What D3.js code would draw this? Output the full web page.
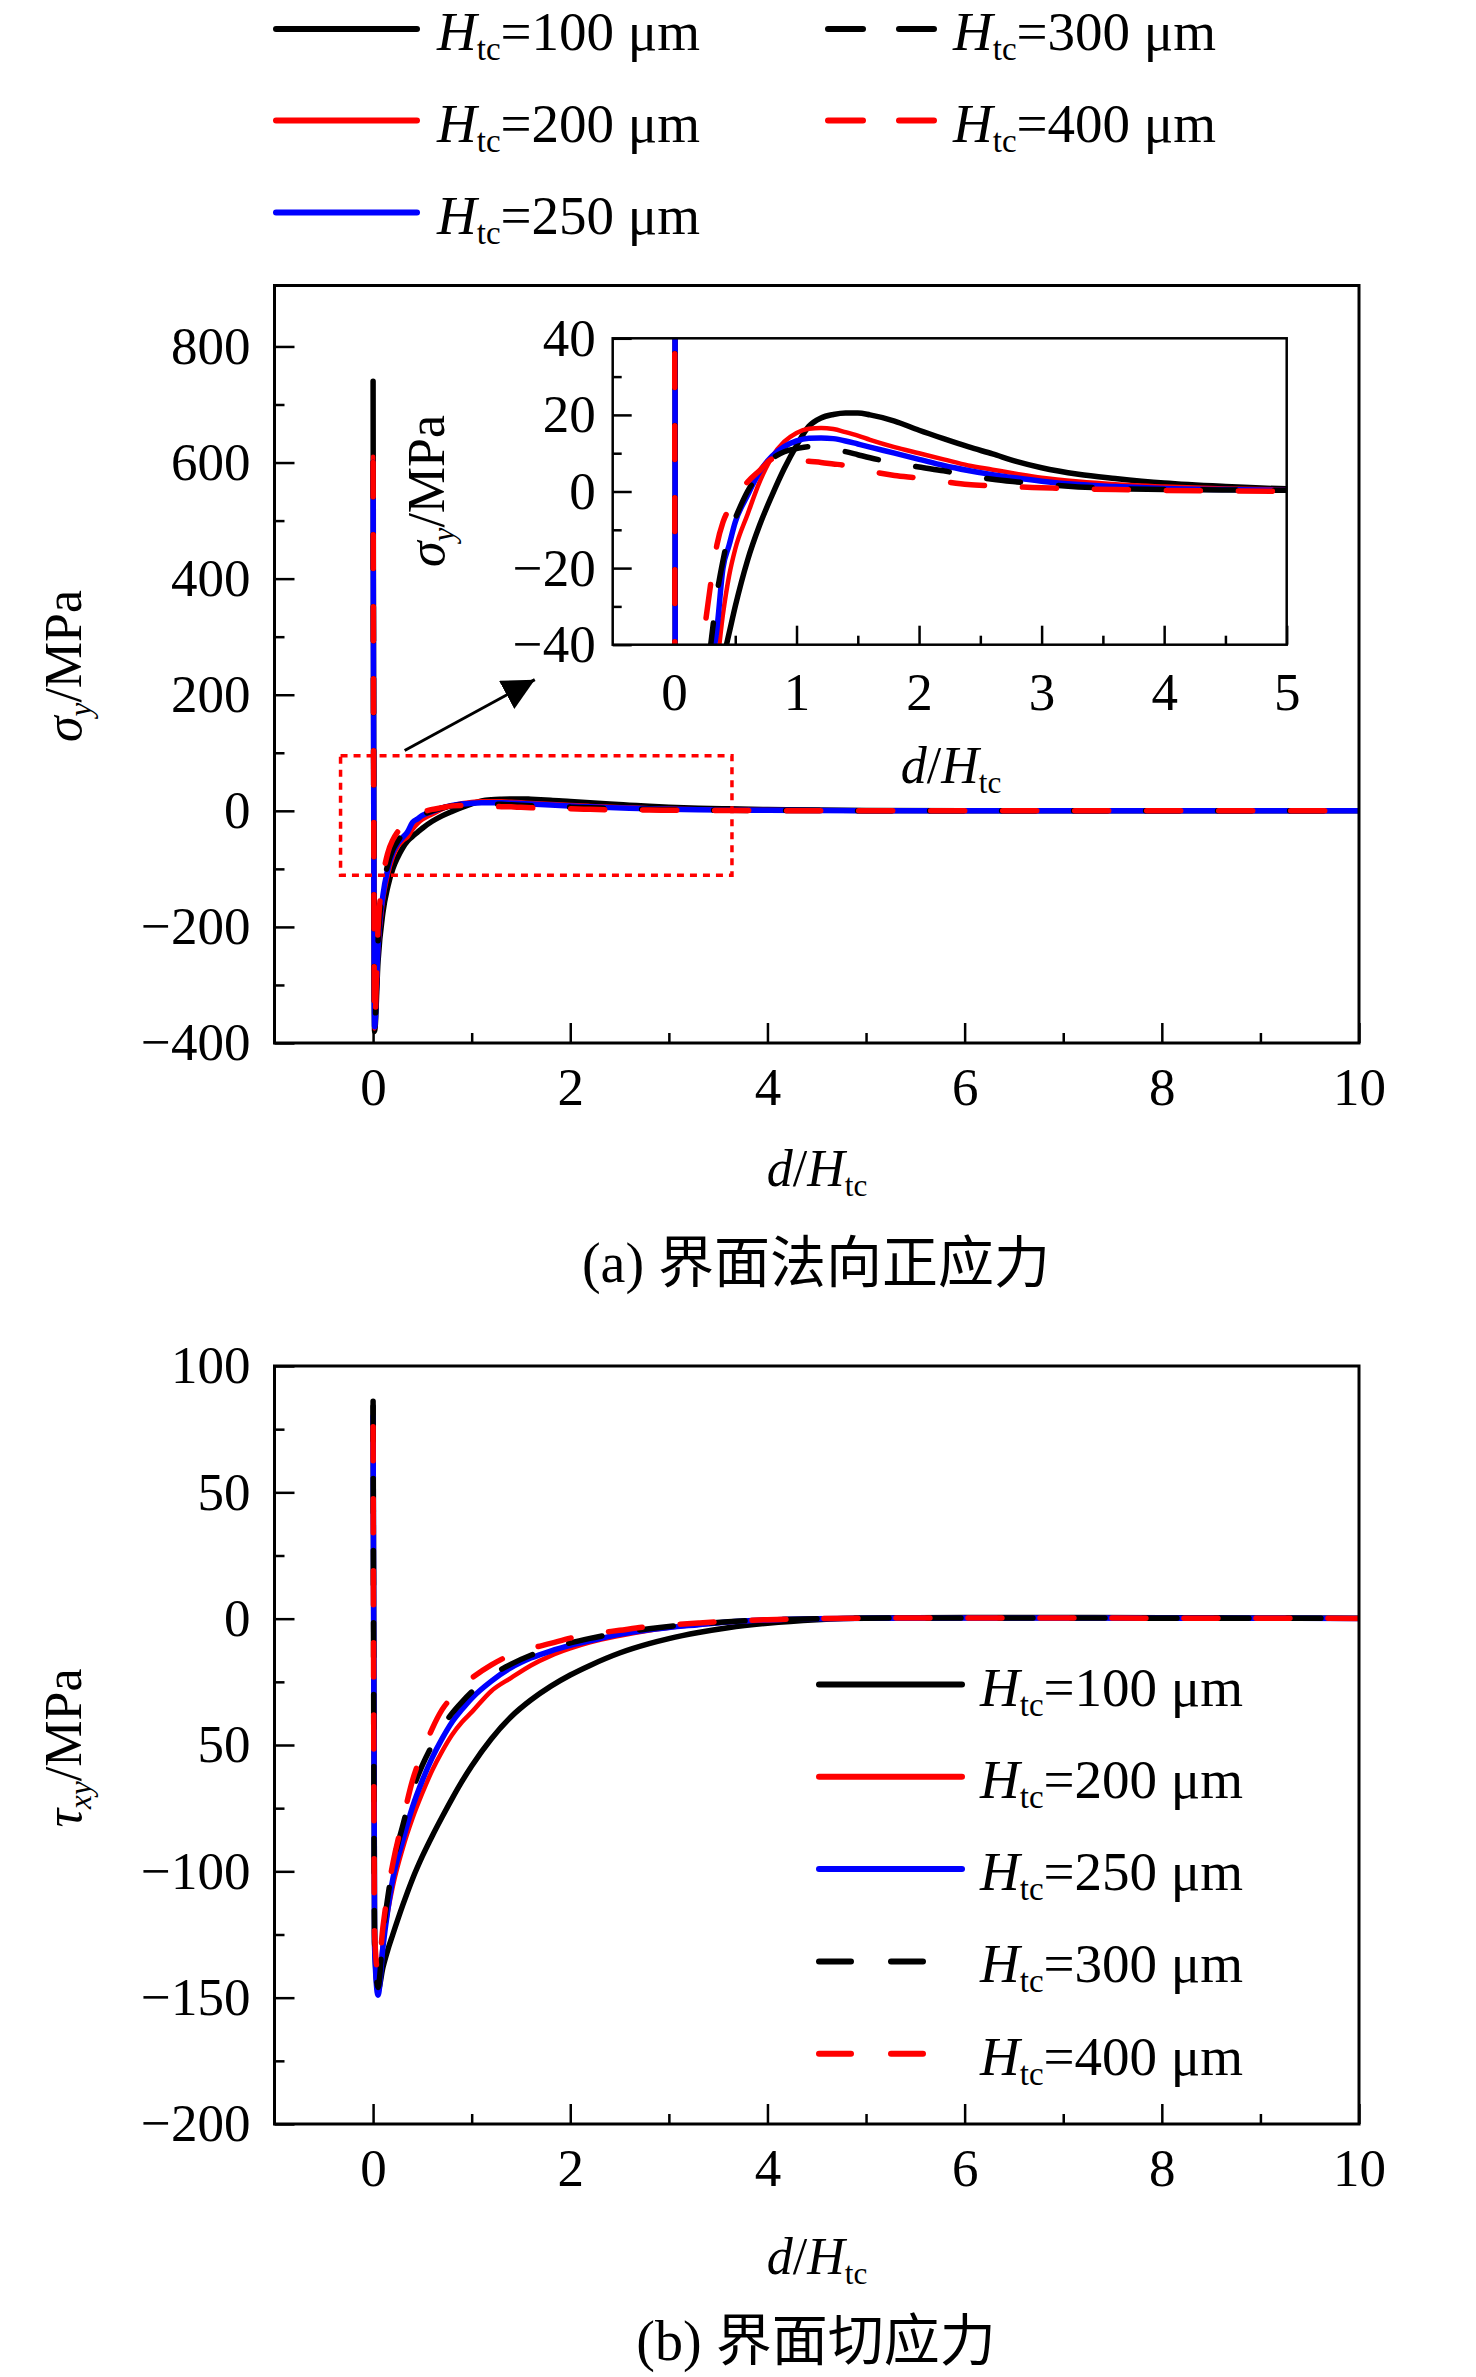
<!DOCTYPE html>
<html>
<head>
<meta charset="utf-8">
<script src="https://cdn.jsdelivr.net/npm/d3@7"></script>
<style>
    body { margin: 0; background: #fff; }
    svg { display: block; }
</style>
</head>
<body>
<svg id="chart" width="1476" height="2377"></svg>
<script>
// values (d/Htc on x)
const sigmaX = [0, 0.015, 0.05, 0.1, 0.15, 0.2, 0.25, 0.3, 0.35, 0.4, 0.45, 0.5, 0.6, 0.7, 0.8, 0.9, 1.0, 1.1, 1.2, 1.3,
    1.4, 1.5, 1.6, 1.8, 2.0, 2.2, 2.4, 2.6, 2.8, 3.0, 3.3, 3.6, 4.0, 4.5, 5.0, 6, 8, 10];
const sigma100 = [740, -380, -260, -175, -130, -100, -80, -64, -52, -44, -37, -30, -18, -8.7, -1, 6, 12, 17, 19.2, 20.1,
    20.5, 20.5, 20, 18.4, 16, 13.8, 11.7, 9.8, 7.8, 6.2, 4.5, 3.4, 2.2, 1.3, 0.7, 0.3, 0.1, 0];
const sigma200 = [610, -375, -245, -155, -110, -80, -62, -52, -45, -32, -22, -15, -6, 2.6, 9, 13, 15.3, 16.4, 16.6, 16.3,
    15.5, 14.6, 13.5, 11.6, 10, 8.4, 6.8, 5.7, 4.6, 3.6, 2.6, 1.9, 1.3, 0.8, 0.5, 0.2, 0.05, 0];
const sigma250 = [600, -372, -235, -145, -100, -72, -56, -46, -36, -20, -14, -8, -1, 5.2, 9.2, 11.7, 13.2, 13.9, 14, 13.8,
    13.2, 12.4, 11.6, 10, 8.4, 6.8, 5.5, 4.4, 3.5, 2.7, 1.8, 1.3, 0.8, 0.5, 0.3, 0.1, 0, 0];
const sigma300 = [600, -370, -225, -135, -92, -67, -52, -40, -27, -18, -11, -7, 0, 4.8, 8.5, 10.4, 11.2, 11.7, 11.6, 11.1,
    10.4, 9.6, 8.8, 7.5, 6.4, 5.4, 4.2, 3.2, 2.5, 1.9, 1.2, 0.8, 0.5, 0.4, 0.3, 0.1, 0, 0];
const sigma400 = [600, -365, -205, -115, -72, -50, -36, -24, -14, -8, -4.5, -2, 2.5, 5.5, 8.5, 9.2, 8.3, 7.9, 7.6, 7.2,
    6.8, 6, 5.3, 4.2, 3.5, 2.6, 1.8, 1.5, 1.2, 1.0, 0.7, 0.5, 0.3, 0.15, 0.05, 0, 0, 0];

const tauX = [0, 0.015, 0.05, 0.1, 0.15, 0.2, 0.3, 0.4, 0.5, 0.6, 0.7, 0.8, 0.9, 1.0, 1.2, 1.4, 1.6, 1.8, 2.0, 2.2,
    2.5, 2.8, 3.0, 3.3, 3.6, 4.0, 4.5, 5.0, 6, 7, 8, 9, 10];
const tau100 = [86, -128, -147, -138, -131, -125, -113.5, -103, -94, -86, -78.5, -71.3, -64.5, -58.3, -47.5, -38.8, -32.2, -26.8, -22.3, -18.5,
    -13.6, -9.9, -7.9, -5.5, -3.6, -1.8, -0.4, 0.3, 0.5, 0.5, 0.4, 0.3, 0.2];
const tau200 = [74, -128, -146, -128, -116, -106, -91, -79, -69, -60, -52.5, -46, -41, -37, -28.6, -23.4, -18.5, -14.7, -11.8, -9.4,
    -6.8, -4.7, -3.6, -2.4, -1.4, -0.6, 0, 0.2, 0.3, 0.3, 0.2, 0.2, 0.1];
const tau250 = [80, -130, -149, -130, -115, -103, -88, -74.5, -64, -55, -47.5, -41, -36, -31.5, -24.7, -19.4, -15.6, -12.8, -10.6, -8.8,
    -6.2, -4.4, -3.5, -2.4, -1.3, -0.5, 0, 0.2, 0.3, 0.3, 0.2, 0.2, 0.1];
const tau300 = [84, -128, -146, -125, -110, -98, -82, -68, -58, -50, -43, -37.5, -33, -29, -22.5, -18, -14.5, -11.8, -9.6, -7.8,
    -5.6, -4, -3.1, -2.1, -1.2, -0.5, 0, 0.2, 0.3, 0.3, 0.2, 0.2, 0.1];
const tau400 = [76, -125, -140, -122, -108, -97, -80, -64, -53, -43.5, -36, -31, -26.5, -23.5, -18.3, -14.3, -11.8, -9.8, -7.7, -6.2,
    -4.6, -3.1, -2.5, -1.7, -1, -0.4, 0, 0.2, 0.3, 0.3, 0.2, 0.2, 0.1];

const thicknesses = ["100", "200", "250", "300", "400"];
const seriesColors = ["#000000", "#ff0000", "#0000ff", "#000000", "#ff0000"];
const seriesDashed = [false, false, false, true, true];

const xTicks = [0, 2, 4, 6, 8, 10];
const xMinor = [1, 3, 5, 7, 9];
const sigmaTicks = [-400, -200, 0, 200, 400, 600, 800];
const sigmaMinor = [-300, -100, 100, 300, 500, 700];
const insetXTicks = [0, 1, 2, 3, 4, 5];
const insetXMinor = [0.5, 1.5, 2.5, 3.5, 4.5];
const insetYTicks = [-40, -20, 0, 20, 40];
const insetYMinor = [-30, -10, 10, 30];
const tauTicks = [-200, -150, -100, -50, 0, 50, 100];
const tauMinor = [-175, -125, -75, -25, 25, 75];
const tauTickLabels = ["−200", "−150", "−100", "50", "0", "50", "100"];

// dotted zoom window and arrow, in panel (a) data units
const zoomBox = [-0.33, 3.64, -111, 95];
const arrowFrom = [0.32, 104];
const arrowTo = [1.64, 226];

const serif = '"Liberation Serif", "Times New Roman", serif';
const cjk = '"Noto Sans CJK SC", sans-serif';
const svg = d3.select("#chart");

const xA = d3.scaleLinear([-1, 10], [274.5, 1359]);
const yA = d3.scaleLinear([-400, 905], [1043, 285.5]);
const xIn = d3.scaleLinear([-0.5, 5], [612.7, 1286.7]);
const yIn = d3.scaleLinear([-40, 40], [644.7, 338.3]);
const xB = d3.scaleLinear([-1, 10], [274.5, 1359]);
const yB = d3.scaleLinear([-200, 100], [2124, 1366]);

const sigmaSeries = [sigma100, sigma200, sigma250, sigma300, sigma400].map(v => v.map((d, i) => [sigmaX[i], d]));
const tauSeries = [tau100, tau200, tau250, tau300, tau400].map(v => v.map((d, i) => [tauX[i], d]));

const defs = svg.append("defs");

function styleAxis(g, fontSize) {
    g.select(".domain").remove();
    g.attr("font-family", serif).attr("font-size", fontSize);
    g.selectAll("line").attr("stroke", "#000").attr("stroke-width", 2.5);
    g.selectAll("text").attr("fill", "#000");
}

function drawAxes(g, x, y, o) {
    const bottom = y.range()[0];
    const left = x.range()[0];
    g.append("g").attr("transform", `translate(0,${bottom})`)
        .call(d3.axisBottom(x).tickValues(o.xMinor).tickSize(-o.minor).tickFormat(() => ""))
        .call(s => styleAxis(s, o.fontSize));
    g.append("g").attr("transform", `translate(0,${bottom})`)
        .call(d3.axisBottom(x).tickValues(o.xTicks).tickSize(-o.major).tickPadding(o.padX).tickFormat(d3.format("d")))
        .call(s => styleAxis(s, o.fontSize));
    g.append("g").attr("transform", `translate(${left},0)`)
        .call(d3.axisLeft(y).tickValues(o.yMinor).tickSize(-o.minor).tickFormat(() => ""))
        .call(s => styleAxis(s, o.fontSize));
    g.append("g").attr("transform", `translate(${left},0)`)
        .call(d3.axisLeft(y).tickValues(o.yTicks).tickSize(-o.major).tickPadding(o.padY).tickFormat(o.yFormat || d3.format("d")))
        .call(s => styleAxis(s, o.fontSize));
}

function frame(g, x, y, width) {
    g.append("rect")
        .attr("x", x.range()[0]).attr("y", y.range()[1])
        .attr("width", x.range()[1] - x.range()[0]).attr("height", y.range()[0] - y.range()[1])
        .attr("fill", "none").attr("stroke", "#000").attr("stroke-width", width);
}

function clipFor(id, x, y) {
    defs.append("clipPath").attr("id", id).append("rect")
        .attr("x", x.range()[0]).attr("y", y.range()[1])
        .attr("width", x.range()[1] - x.range()[0]).attr("height", y.range()[0] - y.range()[1]);
    return `url(#${id})`;
}

function drawCurves(g, series, x, y, clip) {
    const line = d3.line().x(d => x(d[0])).y(d => y(d[1])).curve(d3.curveMonotoneX);
    g.append("g").attr("clip-path", clip)
        .selectAll("path")
        .data(series)
        .join("path")
        .attr("d", line)
        .attr("fill", "none")
        .attr("stroke", (d, i) => seriesColors[i])
        .attr("stroke-width", (d, i) => i === 1 ? 4.5 : 5.5)
        .attr("stroke-linecap", "round")
        .attr("stroke-linejoin", "round")
        .attr("stroke-dasharray", (d, i) => seriesDashed[i] ? "34 38" : null);
}

// "Htc=100 μm" style legend label
function htcLabel(g, x, y, value, size) {
    const t = g.append("text").attr("x", x).attr("y", y)
        .attr("font-family", serif).attr("font-size", size).attr("fill", "#000");
    t.append("tspan").attr("font-style", "italic").text("H");
    t.append("tspan").attr("font-size", size * 0.6).attr("dy", 10).text("tc");
    t.append("tspan").attr("dy", -10).text(`=${value} μm`);
}

function xLabel(g, cx, y, size) {
    const t = g.append("text").attr("x", cx).attr("y", y).attr("text-anchor", "middle")
        .attr("font-family", serif).attr("font-size", size).attr("fill", "#000");
    t.append("tspan").attr("font-style", "italic").text("d");
    t.append("tspan").text("/");
    t.append("tspan").attr("font-style", "italic").text("H");
    t.append("tspan").attr("font-size", size * 0.6).attr("dy", 10).text("tc");
}

function yLabel(g, x, cy, symbol, sub, size) {
    const t = g.append("text").attr("transform", `translate(${x},${cy}) rotate(-90)`)
        .attr("text-anchor", "middle")
        .attr("font-family", serif).attr("font-size", size).attr("fill", "#000");
    t.append("tspan").attr("font-style", "italic").text(symbol);
    t.append("tspan").attr("font-style", "italic").attr("font-size", size * 0.6).attr("dy", 10).text(sub);
    t.append("tspan").attr("dy", -10).text("/MPa");
}

function caption(g, cx, y, label, words) {
    const t = g.append("text").attr("x", cx).attr("y", y).attr("text-anchor", "middle")
        .attr("font-size", 56).attr("fill", "#000");
    t.append("tspan").attr("font-family", serif).text(label + " ");
    t.append("tspan").attr("font-family", cjk).text(words);
}

function legendRow(g, i, lineX, textX, y, solidLen, dash) {
    const l = g.append("line")
        .attr("x1", lineX).attr("x2", lineX + (seriesDashed[i] ? dash.len : solidLen))
        .attr("y1", y).attr("y2", y)
        .attr("stroke", seriesColors[i]).attr("stroke-width", 6).attr("stroke-linecap", "round");
    if (seriesDashed[i]) l.attr("stroke-dasharray", dash.pattern);
    htcLabel(g, textX, y + 21, thicknesses[i], 55);
}

// ---------- top legend ----------
const legendTop = svg.append("g");
const topRows = [29, 120.5, 212.5];
[0, 1, 2].forEach((i, r) => legendRow(legendTop, i, 276, 437, topRows[r], 141, null));
[3, 4].forEach((i, r) => legendRow(legendTop, i, 828, 953, topRows[r], 0, { len: 106, pattern: "35 36" }));

// ---------- panel (a) ----------
const pa = svg.append("g");
drawAxes(pa, xA, yA, {
    xTicks, xMinor, yTicks: sigmaTicks, yMinor: sigmaMinor,
    major: 20, minor: 10, padX: 24, padY: 24, fontSize: 53
});
drawCurves(pa, sigmaSeries, xA, yA, clipFor("clipA", xA, yA));
frame(pa, xA, yA, 3);

pa.append("rect")
    .attr("x", xA(zoomBox[0])).attr("y", yA(zoomBox[3]))
    .attr("width", xA(zoomBox[1]) - xA(zoomBox[0]))
    .attr("height", yA(zoomBox[2]) - yA(zoomBox[3]))
    .attr("fill", "none").attr("stroke", "#ff0000").attr("stroke-width", 3.5)
    .attr("stroke-dasharray", "7 6");

defs.append("marker").attr("id", "arrowHead")
    .attr("viewBox", "0 0 10 10").attr("refX", 10).attr("refY", 5)
    .attr("markerUnits", "userSpaceOnUse").attr("markerWidth", 32).attr("markerHeight", 32)
    .attr("orient", "auto")
    .append("path").attr("d", "M0,0 L10,5 L0,10 Z").attr("fill", "#000");
pa.append("line")
    .attr("x1", xA(arrowFrom[0])).attr("y1", yA(arrowFrom[1]))
    .attr("x2", xA(arrowTo[0])).attr("y2", yA(arrowTo[1]))
    .attr("stroke", "#000").attr("stroke-width", 3)
    .attr("marker-end", "url(#arrowHead)");

// inset
const inset = svg.append("g");
inset.append("rect")
    .attr("x", xIn.range()[0]).attr("y", yIn.range()[1])
    .attr("width", xIn.range()[1] - xIn.range()[0]).attr("height", yIn.range()[0] - yIn.range()[1])
    .attr("fill", "#fff");
drawAxes(inset, xIn, yIn, {
    xTicks: insetXTicks, xMinor: insetXMinor, yTicks: insetYTicks, yMinor: insetYMinor,
    major: 19, minor: 9, padX: 28, padY: 17, fontSize: 53
});
drawCurves(inset, sigmaSeries, xIn, yIn, clipFor("clipIn", xIn, yIn));
frame(inset, xIn, yIn, 2.5);
yLabel(inset, 444, 491, "σ", "y", 52);
xLabel(inset, 951, 783, 52);

yLabel(pa, 81, 666, "σ", "y", 52);
xLabel(pa, 817, 1186, 52);
caption(pa, 816, 1282, "(a)", "界面法向正应力");

// ---------- panel (b) ----------
const pb = svg.append("g");
drawAxes(pb, xB, yB, {
    xTicks, xMinor, yTicks: tauTicks, yMinor: tauMinor,
    yFormat: d => tauTickLabels[tauTicks.indexOf(d)],
    major: 20, minor: 10, padX: 24, padY: 24, fontSize: 53
});
drawCurves(pb, tauSeries, xB, yB, clipFor("clipB", xB, yB));
frame(pb, xB, yB, 3);

const legendB = pb.append("g");
[0, 1, 2, 3, 4].forEach(i => legendRow(legendB, i, 819, 980, 1684.5 + 92.3 * i, 143, { len: 104, pattern: "32 40" }));

yLabel(pb, 81, 1748, "τ", "xy", 52);
xLabel(pb, 817, 2274, 52);
caption(pb, 816, 2360, "(b)", "界面切应力");
</script>
</body>
</html>
